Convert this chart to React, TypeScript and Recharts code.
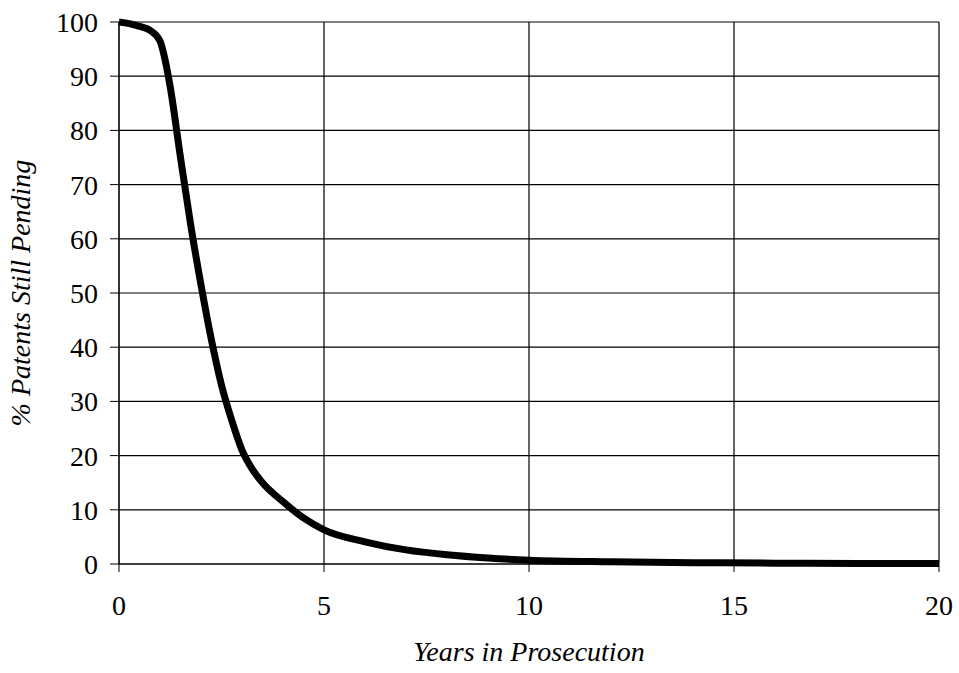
import React from 'react'
import { LineChart, Line, XAxis, YAxis, CartesianGrid } from 'recharts'

// years in prosecution vs % of patents still pending
const years = [0, 0.25, 0.5, 0.75, 1, 1.125, 1.25, 1.5, 1.75, 2, 2.25, 2.5, 2.75, 3, 3.25, 3.5, 4, 4.5, 5, 6, 7, 8, 9, 10, 12, 14, 16, 18, 20]
const pending = [100, 99.7, 99.2, 98.5, 96.5, 93, 88, 75, 62.5, 51.5, 41.5, 33, 26.5, 21, 17.5, 15, 11.5, 8.5, 6.3, 4.1, 2.6, 1.7, 1.1, 0.7, 0.4, 0.25, 0.15, 0.1, 0.1]

const xTicks = [0, 5, 10, 15, 20]
const yTicks = [0, 10, 20, 30, 40, 50, 60, 70, 80, 90, 100]

const data = years.map((y, i) => ({ year: y, pending: pending[i] }))

const font = 'Liberation Serif'
const tickStyle = { fontSize: 28, fontFamily: font, fill: '#000' }

export default function App() {
  return (
    // absolute so the chart sits at the page's top-left corner despite the body margin
    <div style={{ position: 'absolute', left: 0, top: 0, width: 959, height: 673, background: '#fff' }}>
      <LineChart
        width={959}
        height={673}
        data={data}
        margin={{ top: 22, right: 20, left: 0, bottom: 0 }}
      >
        <CartesianGrid stroke="#000" strokeWidth={1.2} />
        <XAxis
          dataKey="year"
          type="number"
          domain={[0, 20]}
          ticks={xTicks}
          height={109}
          tick={tickStyle}
          tickSize={8}
          tickMargin={23}
          stroke="#000"
          tickLine={{ stroke: '#000' }}
          label={({ viewBox }: any) => (
            <text
              x={viewBox.x + viewBox.width / 2}
              y={661}
              textAnchor="middle"
              fontSize={28}
              fontStyle="italic"
              fontFamily={font}
              fill="#000"
            >
              Years in Prosecution
            </text>
          )}
        />
        <YAxis
          type="number"
          domain={[0, 100]}
          ticks={yTicks}
          width={119}
          tick={tickStyle}
          tickSize={9}
          tickMargin={12}
          stroke="#000"
          tickLine={{ stroke: '#000' }}
          label={({ viewBox }: any) => {
            const cy = viewBox.y + viewBox.height / 2
            return (
              <text
                x={30}
                y={cy}
                transform={`rotate(-90 30 ${cy})`}
                textAnchor="middle"
                fontSize={28}
                fontStyle="italic"
                fontFamily={font}
                fill="#000"
              >
                % Patents Still Pending
              </text>
            )
          }}
        />
        <Line
          type="monotone"
          dataKey="pending"
          stroke="#000"
          strokeWidth={7}
          dot={false}
          isAnimationActive={false}
        />
      </LineChart>
    </div>
  )
}
